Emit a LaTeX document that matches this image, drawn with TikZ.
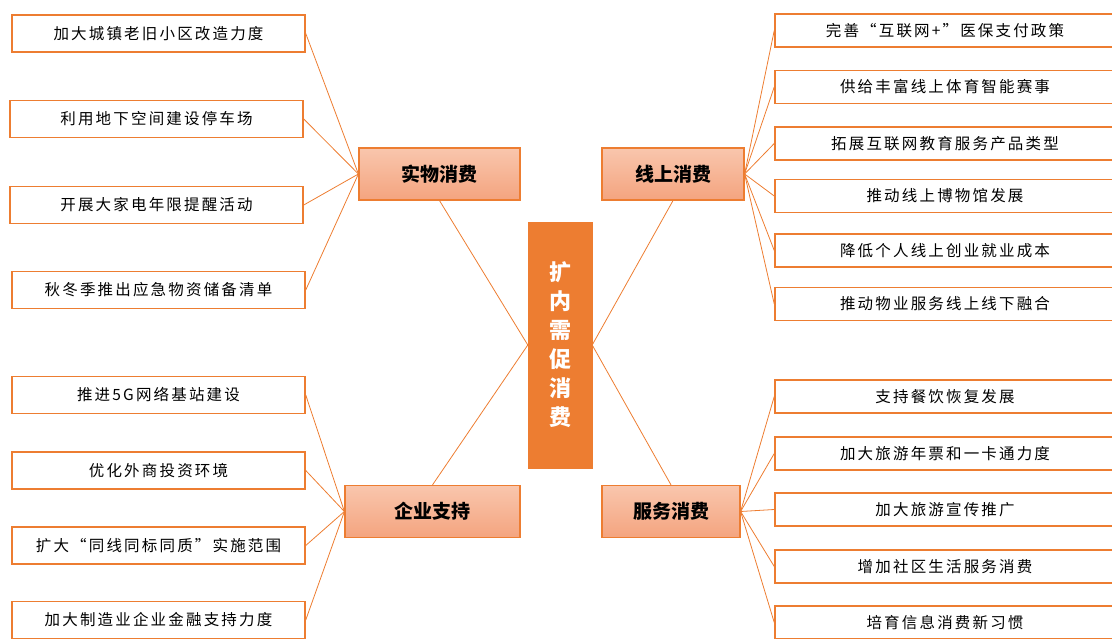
\documentclass[tikz,border=0pt]{standalone}
\usepackage{fontspec}
\newfontfamily\cjk{Noto Sans CJK SC}
\newfontfamily\cjkl[LetterSpace=14]{Noto Sans CJK SC}
\definecolor{orgline}{HTML}{ED7D31}
\definecolor{orgfill}{HTML}{ED7D31}
\definecolor{cattop}{HTML}{F9C6AD}
\definecolor{catbot}{HTML}{F4A47F}
\begin{document}
\begin{tikzpicture}[x=1pt,y=-1pt,
  leafbox/.style={draw=orgline, line width=1.5pt, fill=white, minimum width=293pt, minimum height=37pt, inner sep=0pt, font=\cjkl\fontsize{15.5}{16}\selectfont},
  rleafbox/.style={leafbox, minimum width=340pt, minimum height=33pt},
  catbox/.style={draw=orgline, line width=1.2pt, top color=cattop, bottom color=catbot, minimum height=52pt, inner sep=0pt, font=\cjk\bfseries\fontsize{19}{19}\selectfont},
  hubbox/.style={fill=orgfill, draw=orgfill, minimum width=64pt, minimum height=246pt, inner sep=0pt, text=white, align=center, font=\cjk\bfseries\fontsize{22}{29}\selectfont},
  link/.style={draw=orgline, line width=0.8pt}]
\useasboundingbox (0,0) rectangle (1112,639);

\node[hubbox] (hub) at (560,345) {扩\\内\\需\\促\\消\\费};

\node[catbox, minimum width=161pt] (c1) at (439.5,174) {实物消费};
\node[catbox, minimum width=142pt] (c2) at (673,174) {线上消费};
\node[catbox, minimum width=175pt] (c3) at (432.5,511.5) {企业支持};
\node[catbox, minimum width=138pt] (c4) at (671,511.5) {服务消费};

\draw[link] (c1.south) -- (hub.west) -- (c3.north);
\draw[link] (c2.south) -- (hub.east) -- (c4.north);

% left leaves
\node[leafbox] (l1) at (158.5,33.5) {加大城镇老旧小区改造力度};
\node[leafbox] (l2) at (156.5,119) {利用地下空间建设停车场};
\node[leafbox] (l3) at (156.5,205) {开展大家电年限提醒活动};
\node[leafbox] (l4) at (158.5,290) {秋冬季推出应急物资储备清单};
\node[leafbox] (l5) at (158.5,395) {推进5G网络基站建设};
\node[leafbox] (l6) at (158.5,470.5) {优化外商投资环境};
\node[leafbox] (l7) at (158.5,545.5) {扩大“同线同标同质”实施范围};
\node[leafbox] (l8) at (158.5,620) {加大制造业企业金融支持力度};

\foreach \n in {l1,l2,l3,l4} \draw[link] (\n.east) -- (c1.west);
\foreach \n in {l5,l6,l7,l8} \draw[link] (\n.east) -- (c3.west);

% right leaves
\node[rleafbox] (r1) at (945,30.5) {完善“互联网+”医保支付政策};
\node[rleafbox] (r2) at (945,87) {供给丰富线上体育智能赛事};
\node[rleafbox] (r3) at (945,143.5) {拓展互联网教育服务产品类型};
\node[rleafbox] (r4) at (945,196) {推动线上博物馆发展};
\node[rleafbox] (r5) at (945,250.5) {降低个人线上创业就业成本};
\node[rleafbox] (r6) at (945,304) {推动物业服务线上线下融合};
\node[rleafbox] (r7) at (945,396.5) {支持餐饮恢复发展};
\node[rleafbox] (r8) at (945,453.5) {加大旅游年票和一卡通力度};
\node[rleafbox] (r9) at (945,509.5) {加大旅游宣传推广};
\node[rleafbox] (r10) at (945,566.5) {增加社区生活服务消费};
\node[rleafbox] (r11) at (945,622.5) {培育信息消费新习惯};

\foreach \n in {r1,r2,r3,r4,r5,r6} \draw[link] (c2.east) -- (\n.west);
\foreach \n in {r7,r8,r9,r10,r11} \draw[link] (c4.east) -- (\n.west);
\end{tikzpicture}
\end{document}
